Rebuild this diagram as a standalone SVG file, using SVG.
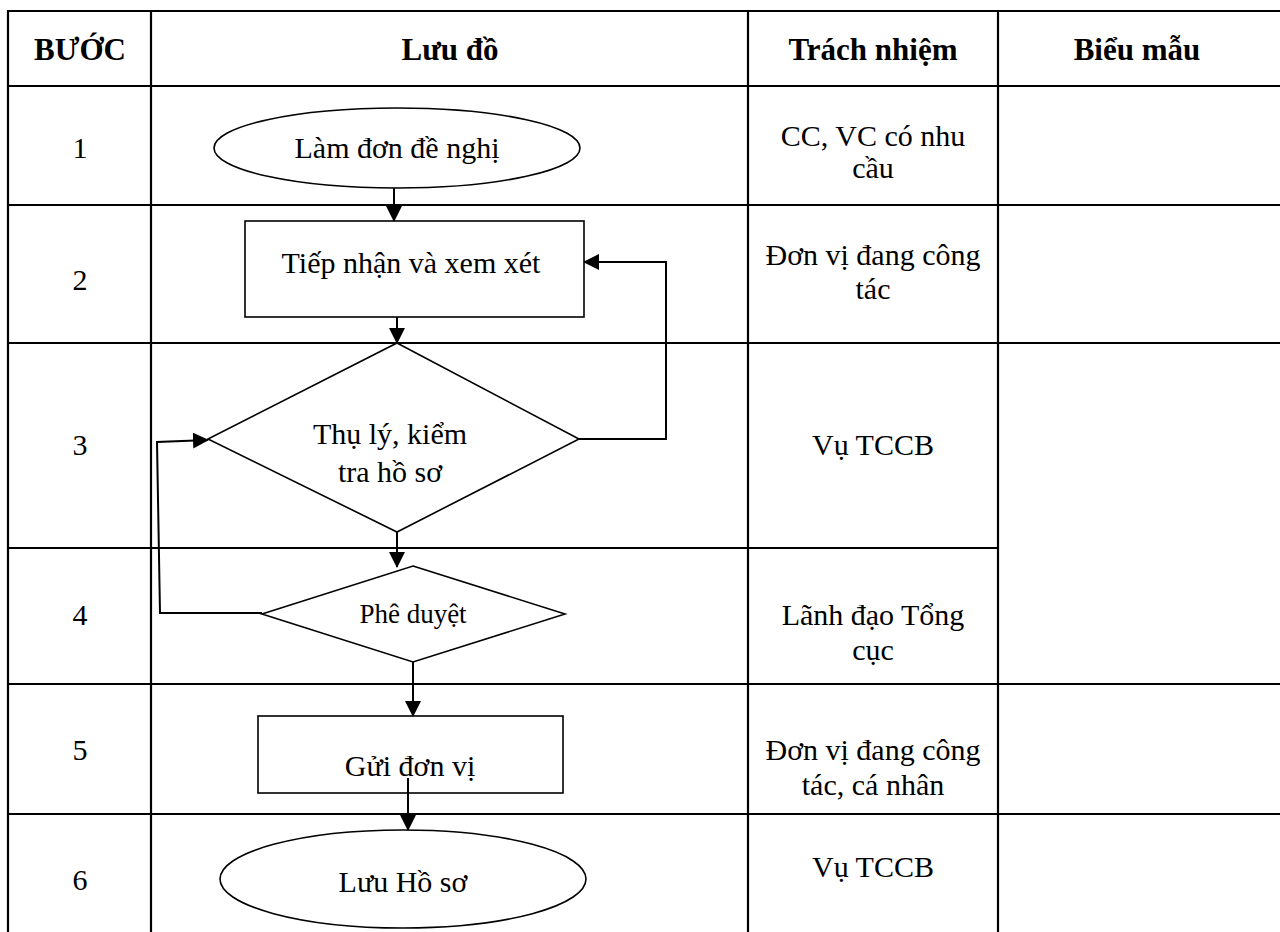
<svg xmlns="http://www.w3.org/2000/svg" width="1280" height="932" viewBox="0 0 1280 932">
<style>
.grid{stroke:#000;stroke-width:2.2;fill:none}
.shape{stroke:#000;stroke-width:1.6;fill:#fff}
.conn{stroke:#000;stroke-width:2;fill:none}
.t{font-family:"Liberation Serif","Times New Roman",serif;font-size:30px;fill:#000;text-anchor:middle}
.h{font-family:"Liberation Serif","Times New Roman",serif;font-size:31px;font-weight:bold;fill:#000;text-anchor:middle}
.s{font-family:"Liberation Serif","Times New Roman",serif;font-size:27px;fill:#000;text-anchor:middle}
</style>
<defs>
<marker id="ah" markerUnits="userSpaceOnUse" markerWidth="16" markerHeight="16" viewBox="0 0 16 16" refX="15" refY="8" orient="auto">
<path d="M0,0 L16,8 L0,16 Z" fill="#000"/>
</marker>
</defs>
<rect width="1280" height="932" fill="#fff"/>
<g id="table">
<line class="grid" x1="7" y1="11" x2="1280" y2="11"/>
<line class="grid" x1="7" y1="86" x2="1280" y2="86"/>
<line class="grid" x1="7" y1="205" x2="1280" y2="205"/>
<line class="grid" x1="7" y1="343" x2="1280" y2="343"/>
<line class="grid" x1="7" y1="548" x2="998" y2="548"/>
<line class="grid" x1="7" y1="684" x2="1280" y2="684"/>
<line class="grid" x1="7" y1="814" x2="1280" y2="814"/>
<line class="grid" x1="8" y1="10" x2="8" y2="932"/>
<line class="grid" x1="151" y1="10" x2="151" y2="932"/>
<line class="grid" x1="748" y1="10" x2="748" y2="932"/>
<line class="grid" x1="998" y1="10" x2="998" y2="932"/>
<text class="h" x="80" y="60">BƯỚC</text>
<text class="h" x="450" y="60">Lưu đồ</text>
<text class="h" x="873" y="60">Trách nhiệm</text>
<text class="h" x="1137" y="60">Biểu mẫu</text>
<text class="t" x="80" y="158">1</text>
<text class="t" x="80" y="290">2</text>
<text class="t" x="80" y="455">3</text>
<text class="t" x="80" y="625">4</text>
<text class="t" x="80" y="760">5</text>
<text class="t" x="80" y="890">6</text>
<text class="t" x="873" y="146">CC, VC có nhu</text>
<text class="t" x="873" y="178">cầu</text>
<text class="t" x="873" y="265">Đơn vị đang công</text>
<text class="t" x="873" y="299">tác</text>
<text class="t" x="873" y="455">Vụ TCCB</text>
<text class="t" x="873" y="625">Lãnh đạo Tổng</text>
<text class="t" x="873" y="660">cục</text>
<text class="t" x="873" y="760">Đơn vị đang công</text>
<text class="t" x="873" y="795">tác, cá nhân</text>
<text class="t" x="873" y="877">Vụ TCCB</text>
</g>
<g id="connectors">
<line class="conn" x1="394" y1="188" x2="394" y2="221" marker-end="url(#ah)"/>
<line class="conn" x1="397" y1="317" x2="397" y2="343" marker-end="url(#ah)"/>
<polyline class="conn" points="579,439 666,439 666,262 584,262" marker-end="url(#ah)"/>
<line class="conn" x1="397" y1="532" x2="397" y2="567" marker-end="url(#ah)"/>
<polyline class="conn" points="262,613 160,613 157,442 208,440" marker-end="url(#ah)"/>
<line class="conn" x1="413" y1="662" x2="413" y2="716" marker-end="url(#ah)"/>
</g>
<g id="n1">
<ellipse class="shape" cx="397" cy="148" rx="183" ry="40"/>
<text class="t" x="397" y="158">Làm đơn đề nghị</text>
</g>
<g id="n2">
<rect class="shape" x="245" y="221" width="339" height="96"/>
<text class="t" x="411" y="273">Tiếp nhận và xem xét</text>
</g>
<g id="n3">
<polygon class="shape" points="397,343 579,439 397,532 208,439"/>
<text class="t" x="390" y="444">Thụ lý, kiểm</text>
<text class="t" x="390" y="482">tra hồ sơ</text>
</g>
<g id="n4">
<polygon class="shape" points="413,566 565,614 413,662 262,614"/>
<text class="s" x="413" y="623">Phê duyệt</text>
</g>
<g id="n5">
<rect class="shape" x="258" y="716" width="305" height="77"/>
<text class="t" x="410" y="776">Gửi đơn vị</text>
</g>
<g id="n6">
<ellipse class="shape" cx="403" cy="879" rx="183" ry="49"/>
<text class="t" x="403" y="892">Lưu Hồ sơ</text>
</g>
<g id="connectors2">
<line class="conn" x1="408" y1="778" x2="408" y2="830" marker-end="url(#ah)"/>
</g>
</svg>
